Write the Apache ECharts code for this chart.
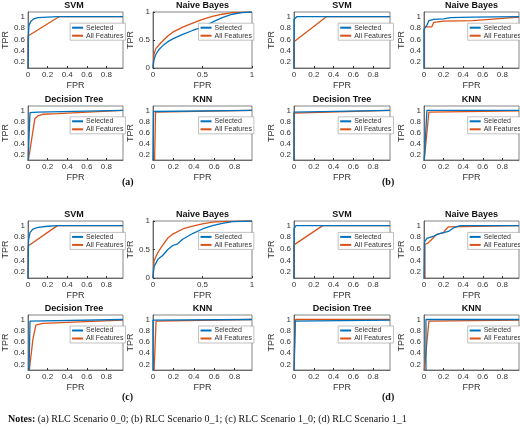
<!DOCTYPE html>
<html>
<head>
<meta charset="utf-8">
<script src="https://cdn.jsdelivr.net/npm/echarts@6/dist/echarts.min.js"></script>
<style>html,body{margin:0;padding:0;background:#fff}#chart{width:520px;height:430px}</style>
</head>
<body>
<div id="chart"></div>
<script>
var myChart = echarts.init(document.getElementById('chart'));

var titles = ['SVM', 'Naive Bayes', 'Decision Tree', 'KNN'];
var seriesNames = ['Selected', 'All Features'];

// [fpr, tpr] pairs, per scenario (a..d), per classifier
var aSvmSel = [[0,0.05],[0.005,0.7],[0.01,0.85],[0.03,0.92],[0.06,0.96],[0.1,0.98],[0.2,0.99],[0.3,1],[0.97,1]];
var aSvmAll = [[0,0.05],[0,0.66],[0.32,1],[0.97,1]];
var aNbSel = [[0,0],[0.01,0.15],[0.03,0.25],[0.06,0.33],[0.1,0.4],[0.15,0.47],[0.2,0.52],[0.3,0.6],[0.4,0.67],[0.5,0.73],[0.6,0.82],[0.7,0.9],[0.8,0.96],[0.9,0.99],[1,1]];
var aNbAll = [[0,0],[0.01,0.25],[0.03,0.35],[0.08,0.45],[0.15,0.57],[0.2,0.64],[0.3,0.73],[0.4,0.8],[0.5,0.87],[0.6,0.92],[0.7,0.96],[0.8,0.99],[1,1]];
var aDtSel = [[0,0.05],[0.02,0.96],[0.1,0.97],[0.97,1]];
var aDtAll = [[0,0.05],[0.07,0.85],[0.1,0.9],[0.15,0.93],[0.3,0.94],[0.97,1]];
var aKnnSel = [[0,0.05],[0.005,0.98],[0.97,1]];
var aKnnAll = [[0.015,0.05],[0.025,0.97],[0.97,1]];

var bSvmSel = [[0,0.05],[0,0.95],[0.03,1],[0.97,1]];
var bSvmAll = [[0,0.05],[0,0.56],[0.33,1],[0.97,1]];
var bNbSel = [[0,0.05],[0,0.78],[0.01,0.8],[0.03,0.85],[0.05,0.93],[0.1,0.95],[0.2,0.96],[0.27,0.98],[0.5,0.99],[0.97,1]];
var bNbAll = [[0.005,0.05],[0.005,0.82],[0.08,0.82],[0.1,0.9],[0.2,0.92],[0.5,0.93],[0.52,0.95],[0.97,0.99]];
var bDtSel = [[0,0.05],[0,0.97],[0.97,1]];
var bDtAll = [[0,0.05],[0,0.95],[0.97,1]];
var bKnnSel = [[0,0.05],[0.03,1],[0.97,1]];
var bKnnAll = [[0,0.05],[0.05,0.97],[0.97,0.99]];

var cSvmSel = [[0,0.05],[0.005,0.75],[0.02,0.88],[0.05,0.94],[0.1,0.97],[0.2,0.99],[0.3,1],[0.97,1]];
var cSvmAll = [[0,0.05],[0,0.65],[0.3,1],[0.97,1]];
var cNbSel = [[0,0],[0.01,0.2],[0.05,0.33],[0.1,0.4],[0.15,0.5],[0.2,0.57],[0.25,0.6],[0.3,0.68],[0.4,0.78],[0.5,0.86],[0.6,0.92],[0.7,0.96],[0.8,0.99],[1,1]];
var cNbAll = [[0,0],[0.01,0.3],[0.05,0.45],[0.1,0.58],[0.15,0.7],[0.2,0.77],[0.3,0.86],[0.4,0.91],[0.5,0.95],[0.6,0.98],[0.7,0.99],[1,1]];
var cDtSel = [[0.01,0.05],[0.02,0.97],[0.97,1]];
var cDtAll = [[0.01,0.05],[0.05,0.65],[0.08,0.9],[0.15,0.93],[0.97,0.99]];
var cKnnSel = [[0,0.05],[0,0.99],[0.97,1]];
var cKnnAll = [[0.01,0.05],[0.03,0.97],[0.97,1]];

var dSvmSel = [[0,0.05],[0,0.95],[0.02,1],[0.97,1]];
var dSvmAll = [[0,0.05],[0,0.67],[0.29,1],[0.97,1]];
var dNbSel = [[0,0.05],[0.005,0.72],[0.03,0.78],[0.06,0.8],[0.1,0.82],[0.15,0.86],[0.2,0.88],[0.25,0.9],[0.3,0.96],[0.37,1],[0.97,1]];
var dNbAll = [[0.01,0.05],[0.01,0.68],[0.04,0.7],[0.07,0.75],[0.1,0.8],[0.13,0.85],[0.2,0.88],[0.22,0.93],[0.25,0.98],[0.97,1]];
var dDtSel = [[0,0.05],[0.01,0.97],[0.97,0.99]];
var dDtAll = [[0,0.05],[0.015,1],[0.97,1]];
var dKnnSel = [[0.02,0.05],[0.02,1],[0.97,1]];
var dKnnAll = [[0,0.05],[0.05,0.97],[0.97,0.99]];

var panels = [
    { label: '(a)', data: [[aSvmSel, aSvmAll], [aNbSel, aNbAll], [aDtSel, aDtAll], [aKnnSel, aKnnAll]], nbFull: true },
    { label: '(b)', data: [[bSvmSel, bSvmAll], [bNbSel, bNbAll], [bDtSel, bDtAll], [bKnnSel, bKnnAll]], nbFull: false },
    { label: '(c)', data: [[cSvmSel, cSvmAll], [cNbSel, cNbAll], [cDtSel, cDtAll], [cKnnSel, cKnnAll]], nbFull: true },
    { label: '(d)', data: [[dSvmSel, dSvmAll], [dNbSel, dNbAll], [dDtSel, dDtAll], [dKnnSel, dKnnAll]], nbFull: false }
];

var colors = ['#0072BD', '#D95319'];
var font = 'Liberation Sans, Arial, sans-serif';

// grid boxes
var colLeft = [[25, 153], [294, 424]];
var colWidth = [[98, 99], [96, 95]];
var rowTop = [[12, 106], [221, 315]];
var rowHeight = [[56, 54], [57, 55]];

var grids = [], xAxes = [], yAxes = [], series = [], legends = [], titleList = [], graphics = [];

// show only labels at 0.2, 0.4, ... 1
function evenTenth(v) {
    var t = v * 10;
    return Math.abs(t - Math.round(t)) < 0.01 && Math.round(t) % 2 === 0;
}

panels.forEach(function (p, pi) {
    var pc = pi % 2, pr = Math.floor(pi / 2);
    for (var k = 0; k < 4; k++) {
        var r = Math.floor(k / 2), c = k % 2;
        var left = colLeft[pc][c], top = rowTop[pr][r], w = colWidth[pc][c], h = rowHeight[pr][r];
        var idx = grids.length;
        var full = (k === 1 && p.nbFull);
        grids.push({ left: left, top: top, width: w, height: h, show: true, borderColor: '#333', borderWidth: 0.6, backgroundColor: '#fff' });
        xAxes.push({
            gridIndex: idx, type: 'value', min: 0, max: full ? 1 : 0.97, interval: full ? 0.5 : 0.2,
            name: 'FPR', nameLocation: 'middle', nameGap: 13,
            nameTextStyle: { fontSize: 9, color: '#333', fontFamily: font },
            axisLine: { lineStyle: { color: '#333', width: 0.6 } },
            axisTick: { inside: true, length: 2, lineStyle: { color: '#333' } },
            splitLine: { show: false },
            axisLabel: { fontSize: 8, color: '#333', margin: 3, fontFamily: font, showMaxLabel: full }
        });
        yAxes.push({
            gridIndex: idx, type: 'value',
            min: full ? 0 : 0.1, max: full ? 1 : 1.08, interval: full ? 0.5 : 0.1,
            name: 'TPR', nameLocation: 'middle', nameGap: full ? 12 : 17,
            nameTextStyle: { fontSize: 9, color: '#333', fontFamily: font },
            axisLine: { lineStyle: { color: '#333', width: 0.6 } },
            axisTick: { show: full, inside: true, length: 2 },
            splitLine: { show: false },
            axisLabel: {
                fontSize: 8, color: '#333', margin: 3, fontFamily: font, showMaxLabel: full,
                formatter: full
                    ? function (v) { return String(v); }
                    : function (v) { return evenTenth(v) ? String(+v.toFixed(1)) : ''; }
            }
        });
        titleList.push({
            text: titles[k], left: left + w / 2, top: top - 11, textAlign: 'center', padding: 0,
            textStyle: { fontSize: 9, fontWeight: 'bold', color: '#111', fontFamily: font }
        });
        legends.push({
            data: seriesNames, orient: 'vertical', left: left + w * 0.46, top: top + h * 0.2,
            itemWidth: 11, itemHeight: 2, itemGap: 1, padding: [1, 2],
            borderColor: '#999', borderWidth: 0.6, backgroundColor: '#fff',
            icon: 'rect', selectedMode: false,
            textStyle: { fontSize: 7, color: '#333', fontFamily: font, padding: [0, 0, 0, -2] }
        });
        for (var s = 0; s < 2; s++) {
            series.push({
                name: seriesNames[s], type: 'line', xAxisIndex: idx, yAxisIndex: idx,
                data: p.data[k][s], showSymbol: false, clip: true,
                lineStyle: { width: 1.3, color: colors[s] }, itemStyle: { color: colors[s] },
                z: 2 - s
            });
        }
    }
    var capX = pc === 0 ? 130 : 390;
    var capY = pr === 0 ? 183 : 398;
    graphics.push({
        type: 'text', left: capX - 8, top: capY - 6,
        style: { text: p.label, font: 'bold 10px Liberation Serif, serif', fill: '#111' }
    });
});

graphics.push({
    type: 'text', left: 8, top: 414,
    style: {
        text: '{b|Notes:} (a) RLC Scenario 0_0; (b) RLC Scenario 0_1; (c) RLC Scenario 1_0; (d) RLC Scenario 1_1',
        rich: { b: { fontWeight: 'bold', fontSize: 10, fontFamily: 'Liberation Serif' } },
        fontSize: 10, fontFamily: 'Liberation Serif', fill: '#111'
    }
});

var option = {
    backgroundColor: '#fff',
    animation: false,
    color: colors,
    title: titleList,
    legend: legends,
    grid: grids,
    xAxis: xAxes,
    yAxis: yAxes,
    series: series,
    graphic: graphics
};
myChart.setOption(option);
</script>
</body>
</html>
